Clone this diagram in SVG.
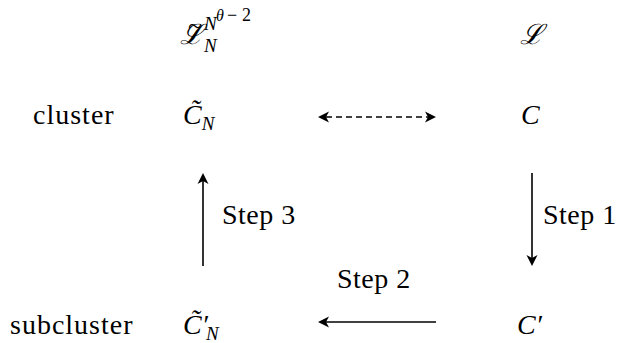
<svg xmlns="http://www.w3.org/2000/svg" width="623" height="343" viewBox="0 0 623 343">
<g id="labels">
<text font-family="Liberation Serif" font-size="28" letter-spacing="1" x="33" y="124">cluster</text>
<text font-family="Liberation Serif" font-size="28" letter-spacing="1" x="10" y="334">subcluster</text>
</g>
<g id="node-Ltilde">
<text font-family="Liberation Serif" font-size="28" font-style="italic" x="180" y="44">ℒ<tspan font-style="normal" font-size="26" x="188" y="34">~</tspan><tspan font-size="19" x="204" y="30">N</tspan><tspan font-size="16" x="216" y="21">θ</tspan><tspan font-size="18" font-style="normal" x="227" y="21">−</tspan><tspan font-size="18" font-style="normal" x="242" y="21">2</tspan><tspan font-size="19" x="204" y="52">N</tspan></text>
</g>
<g id="node-L">
<text font-family="Liberation Serif" font-size="28" font-style="italic" x="520" y="44">ℒ</text>
</g>
<g id="node-Ctilde">
<text font-family="Liberation Serif" font-size="28" font-style="italic" x="183" y="124">C̃<tspan font-size="19" dy="6">N</tspan></text>
</g>
<g id="node-C">
<text font-family="Liberation Serif" font-size="28" font-style="italic" x="521" y="124">C</text>
</g>
<g id="node-Cptilde">
<text font-family="Liberation Serif" font-size="28" font-style="italic" x="183" y="334">C̃′<tspan font-size="19" x="206" y="340">N</tspan></text>
</g>
<g id="node-Cp">
<text font-family="Liberation Serif" font-size="28" font-style="italic" x="517" y="334">C′</text>
</g>
<g id="connectors" stroke="#000" stroke-width="1.6" fill="none">
<line x1="326" y1="117" x2="428" y2="117" stroke-dasharray="6 4"/>
<polygon points="318,117 329,111.5 326,117 329,122.5" fill="#000" stroke="none"/>
<polygon points="436,117 425,111.5 428,117 425,122.5" fill="#000" stroke="none"/>
<line x1="203" y1="266" x2="203" y2="181"/>
<polygon points="203,173 197.5,184 203,181 208.5,184" fill="#000" stroke="none"/>
<line x1="532" y1="173" x2="532" y2="258"/>
<polygon points="532,266 526.5,255 532,258 537.5,255" fill="#000" stroke="none"/>
<line x1="436" y1="322" x2="326" y2="322"/>
<polygon points="318,322 329,316.5 326,322 329,327.5" fill="#000" stroke="none"/>
<text font-family="Liberation Serif" font-size="28" letter-spacing="0.5" fill="#000" stroke="none" x="222" y="224">Step 3</text>
<text font-family="Liberation Serif" font-size="28" letter-spacing="0.5" fill="#000" stroke="none" x="543" y="224">Step 1</text>
<text font-family="Liberation Serif" font-size="28" letter-spacing="0.5" fill="#000" stroke="none" x="337" y="288">Step 2</text>
</g>
</svg>
